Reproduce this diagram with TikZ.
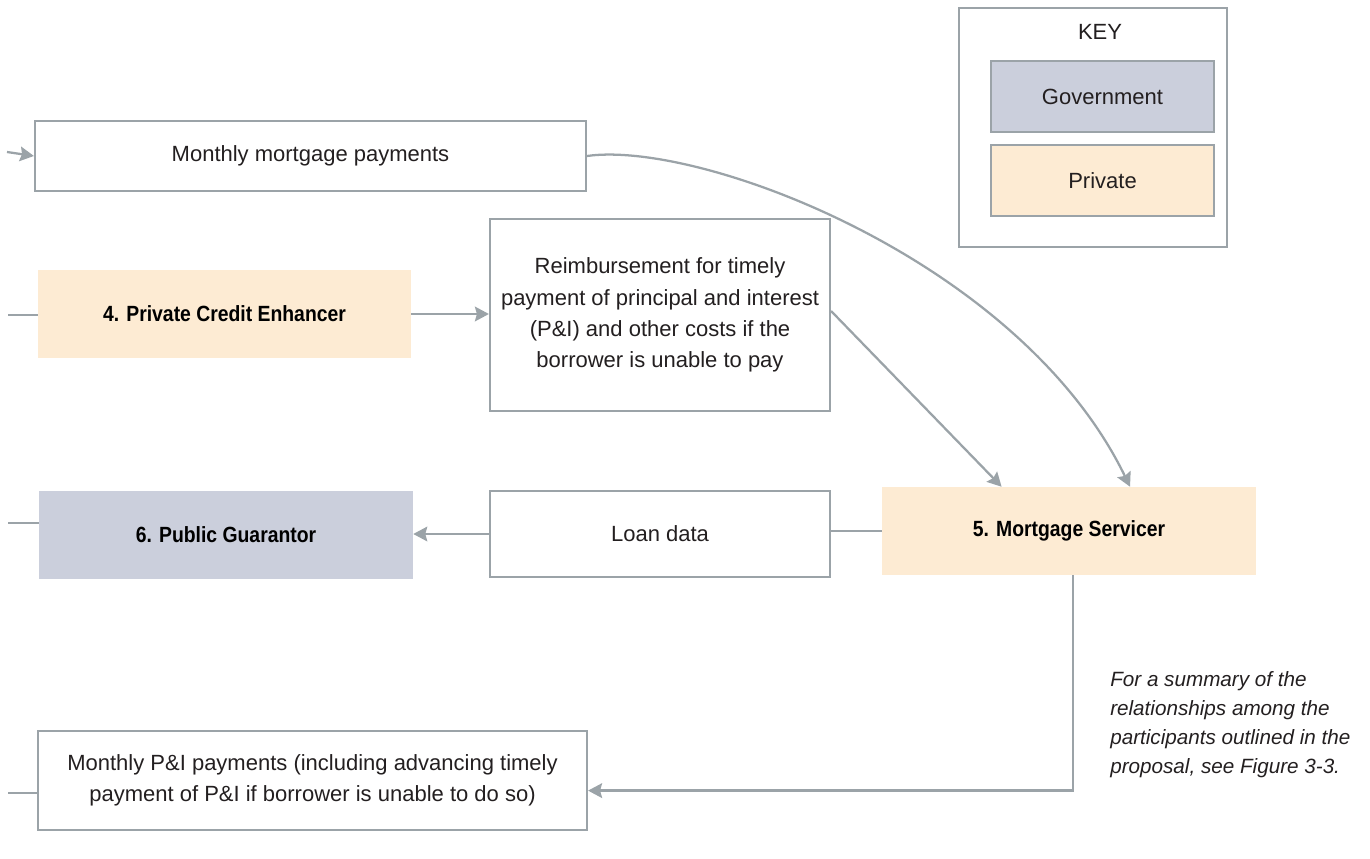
\documentclass[tikz,border=0pt]{standalone}
\usepackage{fontspec}
\setmainfont{Liberation Sans}
\newfontfamily\condfont[FakeStretch=0.88]{Liberation Sans}
\usepackage{tikz}
\usetikzlibrary{arrows.meta,positioning,calc}
\definecolor{LineGray}{HTML}{9BA3A8}
\definecolor{GovFill}{HTML}{CBCFDC}
\definecolor{PrivFill}{HTML}{FDEBD3}
\definecolor{InkBlack}{HTML}{231F20}
\begin{document}
\begin{tikzpicture}[x=0.75pt,y=-0.75pt,
  flow/.style={rectangle,draw=LineGray,line width=1.6pt,fill=white,align=center,text=InkBlack,
    font=\fontsize{16.5}{23.5}\selectfont,inner sep=0pt},
  gov/.style={rectangle,fill=GovFill,align=center,text=black,inner sep=0pt,
    font=\condfont\bfseries\fontsize{16.5}{20}\selectfont},
  priv/.style={gov,fill=PrivFill},
  keybox/.style={flow,line width=1.8pt},
  arr/.style={-{Stealth[length=10.5pt,width=11pt,inset=1.5pt]},line width=1.7pt,color=LineGray},
  ln/.style={line width=1.7pt,color=LineGray}]
\useasboundingbox (0,0) rectangle (1370,859);
% key
\node[flow,minimum width=201pt,minimum height=179.25pt] (key) at (1093,127.5) {};
\node[text=InkBlack,font=\fontsize{16.5}{20}\selectfont] (keytitle) at (1100,32) {KEY};
\node[keybox,fill=GovFill,minimum width=167.25pt,minimum height=53.25pt] (keygov) at (1102.5,96.5) {Government};
\node[keybox,fill=PrivFill,minimum width=167.25pt,minimum height=53.25pt] (keypriv) at (1102.5,180.5) {Private};
% boxes
\node[flow,minimum width=413.25pt,minimum height=52.5pt] (mmp) at (310.5,156) {Monthly mortgage payments};
\node[priv,minimum width=279.75pt,minimum height=66pt] (pce) at (224.5,314) {4. Private Credit Enhancer};
\node[flow,minimum width=255pt,minimum height=144pt] (reimb) at (660,315)
  {Reimbursement for timely\\payment of principal and interest\\(P\&I) and other costs if the\\borrower is unable to pay};
\node[gov,minimum width=280.5pt,minimum height=66pt] (pg) at (226,535) {6. Public Guarantor};
\node[flow,minimum width=255pt,minimum height=64.5pt] (loan) at (660,534) {Loan data};
\node[priv,minimum width=280.5pt,minimum height=66pt] (ms) at (1069,531) {5. Mortgage Servicer};
\node[flow,minimum width=411.75pt,minimum height=74.25pt] (pni) at (312.5,780.5)
  {Monthly P\&I payments (including advancing timely\\payment of P\&I if borrower is unable to do so)};
\node[anchor=north west,inner sep=0pt,align=left,text=InkBlack,
  font=\itshape\fontsize{15.5}{21.75}\selectfont] (note) at (1110,671)
  {For a summary of the\\relationships among the\\participants outlined in the\\proposal, see Figure 3-3.};
% loose ends on the left
\coordinate (in0) at (7,152);
\coordinate (in1) at (8,315);
\coordinate (in2) at (8,523);
\coordinate (in3) at (8,793);
% connectors
\draw[arr] (in0) -- (mmp.west);
\draw[ln] (in1) -- (in1 -| pce.west);
\draw[ln] (in2) -- (in2 -| pg.west);
\draw[ln] (in3) -- (in3 -| pni.west);
\draw[arr] (pce.east) -- (reimb.west |- pce.east);
\draw[arr] ([yshift=3pt]reimb.east) -- ($(ms.north west)!0.32!(ms.north east)$);
\draw[arr] (mmp.east) .. controls (700,140) and (1020,260) .. ($(ms.north west)!0.663!(ms.north east)$);
\draw[ln] (ms.west) -- (ms.west -| loan.east);
\draw[arr] (loan.west) -- (loan.west -| pg.east);
\draw[arr] ([xshift=3pt]ms.south) |- ($(pni.south east)!0.4!(pni.north east)$);
\end{tikzpicture}
\end{document}
